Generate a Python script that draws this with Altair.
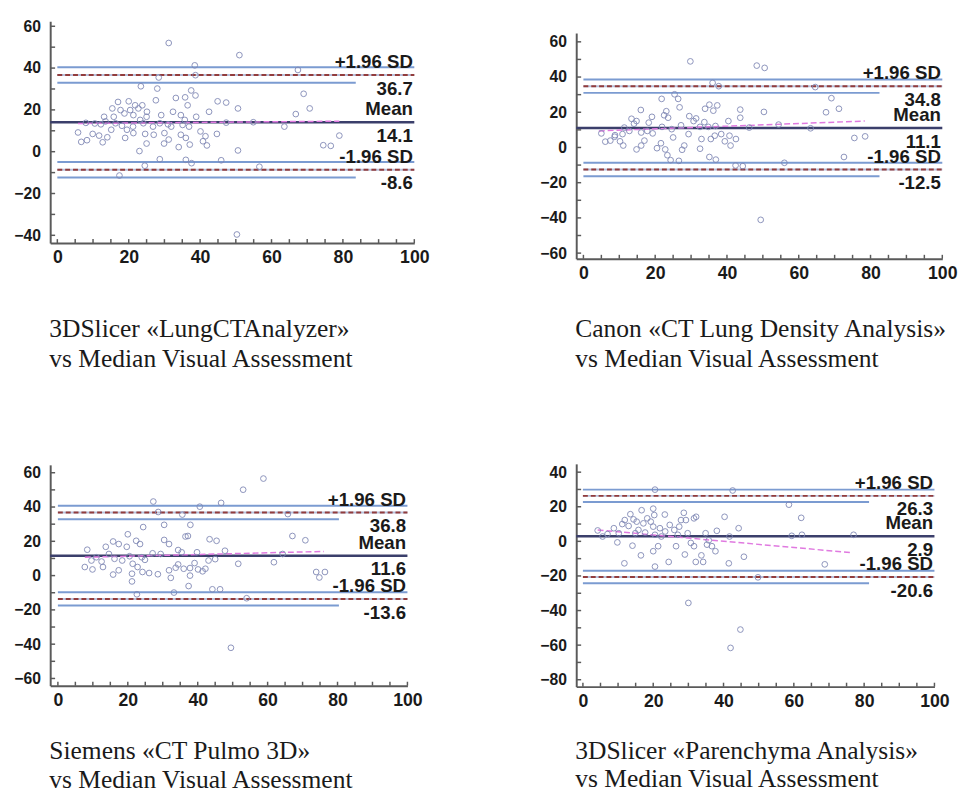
import altair as alt
import pandas as pd

# ---------------- data ----------------
# panel 1: 3DSlicer «LungCTAnalyzer»
p1_points = [(31.2, 52.0), (51.0, 46.2), (38.5, 41.3), (67.4, 39.1), (28.4, 35.5), (38.7, 36.6),
             (23.4, 31.3), (28.0, 30.2), (37.5, 29.3), (38.7, 26.9), (33.2, 25.7), (35.8, 26.0),
             (27.6, 24.6), (44.9, 24.1), (47.3, 23.5), (69.0, 27.7), (36.5, 22.2), (70.7, 20.7),
             (50.6, 20.7), (42.5, 19.1), (32.4, 19.1), (34.6, 17.5), (38.9, 16.7), (29.1, 17.5),
             (66.8, 18.0), (17.0, 23.8), (20.0, 24.1), (21.8, 22.2), (23.8, 22.2), (15.4, 20.7),
             (17.7, 19.9), (20.4, 19.9), (22.7, 20.7), (25.1, 19.1), (25.0, 16.7), (13.1, 16.7),
             (15.8, 16.7), (18.8, 18.3), (21.3, 17.5), (23.2, 15.2), (5.8, 9.2), (9.9, 8.5),
             (6.7, 4.7), (8.3, 5.5), (11.7, 7.7), (12.7, 4.5), (14.0, 6.9), (12.2, 13.1),
             (15.1, 10.5), (16.3, 13.6), (18.1, 12.4), (19.0, 6.6), (19.5, 10.5), (21.2, 12.0),
             (21.3, 8.9), (23.0, 0.3), (25.0, 3.9), (24.6, 8.5), (24.1, 13.6), (26.8, 12.0),
             (27.0, 8.1), (28.7, 13.6), (30.0, 8.9), (31.0, 13.1), (29.9, 3.9), (31.2, 5.8),
             (31.9, 12.0), (34.0, 2.2), (34.6, 8.1), (35.7, 15.2), (35.1, 12.8), (36.9, 12.0),
             (37.1, 3.4), (36.0, 6.6), (40.1, 9.7), (40.8, 5.0), (41.5, 7.4), (41.9, 3.0),
             (44.7, 8.5), (28.7, -3.6), (36.0, -3.9), (37.6, -5.5), (45.9, -4.1), (50.6, 0.6),
             (24.5, -6.7), (56.6, -7.2), (17.4, -11.4), (63.6, 12.0), (74.5, 3.1), (76.6, 2.8),
             (79.0, 7.7), (50.3, -39.6), (47.3, 13.9), (54.9, 14.1), (10.5, 13.5), (13.5, 14.5),
             (8.0, 13.8)]
p1_stats = {"mean": 14.1, "upper": 36.7, "lower": -8.6, "ci": 3.7, "short_end": 83.6}
p1_reg = [(5.8, 13.5), (79.0, 14.6)]

# panel 2: Canon «CT Lung Density Analysis»
p2_points = [(29.8, 48.9), (48.3, 46.5), (50.5, 45.2), (36.0, 36.7), (37.7, 34.8), (64.6, 34.3),
             (25.4, 30.2), (26.4, 27.6), (21.8, 27.6), (69.1, 28.0), (35.1, 24.3), (37.3, 23.9),
             (33.9, 22.0), (36.2, 20.9), (43.7, 21.5), (71.2, 22.0), (67.6, 20.0), (50.3, 20.2),
             (16.0, 21.3), (23.1, 20.6), (26.8, 22.8), (22.5, 18.3), (23.6, 16.9), (19.1, 17.4),
             (29.5, 17.8), (31.4, 16.5), (40.4, 15.0), (43.7, 16.9), (13.4, 16.3), (14.8, 15.0),
             (18.2, 14.1), (14.1, 13.5), (33.7, 14.4), (30.7, 15.0), (32.5, 11.7), (34.8, 11.7),
             (36.8, 12.2), (27.2, 12.6), (24.6, 10.4), (21.9, 11.7), (17.8, 9.4), (19.3, 8.0),
             (16.1, 8.5), (12.8, 9.4), (10.9, 7.6), (8.8, 7.0), (11.4, 11.3), (5.0, 8.0),
             (6.1, 3.3), (7.5, 3.9), (8.7, 6.1), (10.2, 3.5), (11.1, 1.1), (14.8, -1.1),
             (16.1, 1.1), (17.0, 3.9), (20.5, -0.4), (21.6, 2.4), (22.8, -1.1), (23.4, -4.4),
             (24.3, -7.2), (26.6, -7.6), (27.5, -1.3), (28.1, 1.1), (29.3, 7.6), (25.0, 5.7),
             (32.5, -0.7), (32.9, 4.8), (35.5, 4.8), (36.6, 6.7), (35.1, -5.4), (36.9, -6.9),
             (38.4, 7.6), (39.4, 3.5), (41.0, 1.1), (40.7, 6.7), (42.5, 4.8), (42.4, -10.2),
             (44.4, -10.6), (46.2, 11.3), (54.4, 13.0), (56.0, -8.7), (63.3, 10.9), (72.6, -5.4),
             (75.5, 5.4), (78.5, 6.3), (49.4, -41.1)]
p2_stats = {"mean": 11.1, "upper": 34.8, "lower": -12.5, "ci": 3.8, "short_end": 82.5}
p2_reg = [(4.3, 9.4), (78.4, 15.0)]

# panel 3: Siemens «CT Pulmo 3D»
p3_points = [(58.8, 56.6), (53.0, 50.1), (27.3, 43.2), (46.7, 42.4), (40.6, 40.2), (28.7, 37.1),
             (35.6, 35.6), (65.8, 35.9), (30.4, 29.6), (37.9, 29.6), (24.4, 28.3), (36.5, 22.8),
             (37.2, 23.1), (67.1, 23.1), (70.8, 20.6), (43.4, 21.2), (45.4, 20.3), (20.0, 24.1),
             (15.8, 19.9), (13.7, 16.8), (17.4, 18.4), (19.7, 16.8), (22.4, 20.3), (23.5, 18.4),
             (30.4, 20.8), (31.8, 18.4), (34.4, 14.9), (35.4, 13.6), (47.8, 14.5), (27.1, 13.0),
             (29.4, 12.6), (8.4, 15.1), (11.0, 10.7), (9.6, 8.8), (12.5, 8.2), (14.6, 12.6),
             (16.2, 9.8), (18.4, 8.8), (20.5, 11.3), (21.4, 6.9), (22.8, 5.0), (24.0, 10.7),
             (24.9, 9.2), (7.7, 5.0), (9.9, 3.6), (12.9, 5.0), (15.8, 0.6), (17.4, 3.1),
             (21.2, 1.1), (21.2, -3.4), (24.2, 2.1), (26.1, 1.5), (28.6, 0.8), (32.3, -1.3),
             (31.8, 3.1), (33.7, 4.6), (34.4, 6.5), (36.0, 4.0), (37.8, 4.4), (39.1, 7.3),
             (40.1, 3.6), (41.4, 2.5), (42.2, 4.0), (37.8, 0.0), (37.4, -6.1), (33.2, -9.9),
             (22.6, -10.9), (44.2, -8.0), (46.4, -8.0), (51.6, 6.9), (54.0, -13.2), (61.8, 7.8),
             (64.3, 12.6), (73.9, 2.1), (74.8, -1.1), (76.4, 2.1), (49.5, -42.1), (43.1, 8.8),
             (45.0, 9.6), (39.8, 13.6)]
p3_stats = {"mean": 11.6, "upper": 36.8, "lower": -13.6, "ci": 3.9, "short_end": 80.4}
p3_reg = [(7.7, 10.7), (76.1, 14.1)]

# panel 4: 3DSlicer «Parenchyma Analysis»
p4_points = [(20.5, 29.9), (42.6, 29.4), (58.6, 21.2), (62.1, 13.6), (40.3, 14.2), (44.3, 7.6),
             (38.1, 6.1), (59.4, 3.2), (62.3, 3.8), (77.0, 3.8), (41.7, 2.8), (4.2, 6.3),
             (5.6, 2.8), (7.0, 4.2), (8.8, 7.6), (10.2, 4.7), (9.8, -0.6), (11.2, 10.0),
             (11.9, 12.3), (13.0, 8.9), (13.5, 15.7), (14.4, 12.7), (15.3, 11.4), (14.9, 4.7),
             (14.1, -2.5), (15.8, 6.6), (16.7, 18.0), (17.2, 10.4), (17.7, 5.1), (18.3, 13.3),
             (19.3, 11.4), (20.0, 18.9), (20.3, 15.2), (20.0, 8.5), (20.5, 3.8), (20.0, -5.7),
             (21.4, -2.8), (20.5, -14.6), (16.5, -8.1), (11.8, -12.7), (23.3, 15.5), (22.3, 2.8),
             (23.4, 5.7), (24.4, -11.9), (26.0, 6.6), (26.5, -2.8), (27.0, 3.8), (27.4, 8.5),
             (28.7, 16.5), (27.9, 12.3), (29.3, 12.3), (29.8, 4.7), (30.7, -0.9), (31.6, 13.3),
             (32.2, 14.2), (31.6, -2.8), (32.1, -11.9), (29.0, -7.6), (33.7, -8.1), (34.2, -11.9),
             (34.9, 4.7), (35.8, 0.6), (36.7, -2.8), (37.7, -5.7), (35.3, -1.9), (41.5, -12.7),
             (45.8, -8.9), (68.8, -13.3), (30.0, -35.6), (44.8, -51.0), (42.0, -61.6), (49.8, -20.8),
             (21.9, 7.6), (24.7, 9.5)]
p4_stats = {"mean": 2.9, "upper": 26.3, "lower": -20.6, "ci": 3.6, "short_end": 81.4}
p4_reg = [(4.2, 6.6), (76.7, -6.6)]

x_labels = [0, 20, 40, 60, 80, 100]
x_minor = [0, 5, 10, 15, 20, 25, 30, 35, 40, 45, 50, 55, 60, 65, 70, 75, 80, 85, 90, 95, 100]
y_labels_1 = [-40, -20, 0, 20, 40, 60]
y_labels_2 = [-60, -40, -20, 0, 20, 40, 60]
y_labels_4 = [-80, -60, -40, -20, 0, 20, 40]
y_minor_1 = [-40, -30, -20, -10, 0, 10, 20, 30, 40, 50, 60]
y_minor_2 = [-60, -50, -40, -30, -20, -10, 0, 10, 20, 30, 40, 50, 60]
y_minor_4 = [-80, -70, -60, -50, -40, -30, -20, -10, 0, 10, 20, 30, 40]

captions = [
    ["3DSlicer «LungCTAnalyzer»", "vs Median Visual Assessment"],
    ["Canon «CT Lung Density Analysis»", "vs Median Visual Assessment"],
    ["Siemens «CT Pulmo 3D»", "vs Median Visual Assessment"],
    ["3DSlicer «Parenchyma Analysis»", "vs Median Visual Assessment"],
]

# ---------------- styling ----------------
BLUE = "#7b9bd1"
RED = "#923c3c"
MEAN = "#3b3f6b"
PT = "#8088b5"
REG = "#e07ae0"
AX = "#5a5a5a"
TXT = "#1a1a1a"
SANS = "Liberation Sans"
SERIF = "Liberation Serif"


def panel(points, stats, reg, xdom, ydom, w, h, ylabels, yminor, caption, cap_offset, yext, line_h):
    xs = alt.Scale(domain=xdom, nice=False, zero=False)
    ys = alt.Scale(domain=ydom, nice=False, zero=False)
    xaxis = alt.Axis(values=x_labels, ticks=False, grid=False, labelFont=SANS,
                     labelFontWeight="bold", labelFontSize=18, labelColor=TXT,
                     labelPadding=6, labelFlush=False, domainColor=AX, domainWidth=2,
                     format="d", title=None)
    yaxis = alt.Axis(values=ylabels, ticks=False, grid=False, labelFont=SANS,
                     labelFontWeight="bold", labelFontSize=16, labelColor=TXT,
                     labelPadding=10, labelFlush=False, domainColor=AX, domainWidth=2,
                     format="d", title=None, minExtent=yext, maxExtent=yext)

    def X(f):
        return alt.X(f, type="quantitative", scale=xs, axis=xaxis)

    def Y(f):
        return alt.Y(f, type="quantitative", scale=ys, axis=yaxis)

    m, up, lo, ci, se = stats["mean"], stats["upper"], stats["lower"], stats["ci"], stats["short_end"]
    blue_df = pd.DataFrame({"x1": [0, 0, 0, 0], "x2": [100, se, 100, se],
                            "y": [up + ci, up - ci, lo + ci, lo - ci]})
    dash_df = pd.DataFrame({"x1": [0, 0], "x2": [100, 100], "y": [up, lo]})
    mean_df = pd.DataFrame({"x1": [xdom[0]], "x2": [100], "y": [m]})
    reg_df = pd.DataFrame({"x": [reg[0][0]], "x2": [reg[1][0]], "y": [reg[0][1]], "y2": [reg[1][1]]})
    pts_df = pd.DataFrame(points, columns=["x", "y"])
    above_df = pd.DataFrame({"x": [99.6] * 3, "y": [up, m, lo], "t": ["+1.96 SD", "Mean", "-1.96 SD"]})
    below_df = pd.DataFrame({"x": [99.6] * 3, "y": [up, m, lo], "t": [f"{up}", f"{m}", f"{lo}"]})
    xt_df = pd.DataFrame({"t": x_minor})
    yt_df = pd.DataFrame({"t": yminor})

    blue = alt.Chart(blue_df).mark_rule(color=BLUE, strokeWidth=2).encode(x=X("x1"), x2="x2", y=Y("y"))
    dash_under = alt.Chart(dash_df).mark_rule(color="#b9c3dd", strokeWidth=2).encode(x=X("x1"), x2="x2", y=Y("y"))
    dash = alt.Chart(dash_df).mark_rule(color=RED, strokeWidth=2, strokeDash=[5, 3]).encode(
        x=X("x1"), x2="x2", y=Y("y"))
    mean = alt.Chart(mean_df).mark_rule(color=MEAN, strokeWidth=2.5).encode(x=X("x1"), x2="x2", y=Y("y"))
    regl = alt.Chart(reg_df).mark_rule(color=REG, strokeWidth=1.5, strokeDash=[6, 3]).encode(
        x=X("x"), x2="x2", y=Y("y"), y2="y2")
    pts = alt.Chart(pts_df).mark_point(shape="circle", filled=False, size=34, strokeWidth=1,
                                       color=PT, opacity=0.9).encode(x=X("x"), y=Y("y"))
    xt = alt.Chart(xt_df).mark_rule(color=AX, strokeWidth=1.5).encode(
        x=X("t"), y=alt.value(h), y2=alt.value(h - 4))
    yt = alt.Chart(yt_df).mark_rule(color=AX, strokeWidth=1.5).encode(
        y=Y("t"), x=alt.value(0), x2=alt.value(5))
    lab_kw = dict(align="right", baseline="middle", font=SANS, fontWeight="bold", fontSize=19, color=TXT)
    above = alt.Chart(above_df).mark_text(dy=-13, **lab_kw).encode(x=X("x"), y=Y("y"), text="t:N")
    below = alt.Chart(below_df).mark_text(dy=14, **lab_kw).encode(x=X("x"), y=Y("y"), text="t:N")

    return alt.layer(blue, dash_under, dash, mean, regl, pts, xt, yt, above, below).properties(
        width=w, height=h,
        title=alt.TitleParams(text=caption, orient="bottom", anchor="start", frame="group",
                              font=SERIF, fontSize=26, fontWeight="normal", color=TXT,
                              lineHeight=line_h, baseline="top", offset=cap_offset, dx=-1))


def spacer():
    # an invisible 1px block that only takes room in the layout
    return alt.Chart(pd.DataFrame({"v": [0]})).mark_rule(opacity=0, strokeWidth=1).encode(
        x=alt.value(0), y=alt.value(0), y2=alt.value(1)).properties(width=1, height=1)


p1 = panel(p1_points, p1_stats, p1_reg, [-2, 100], [-43.7, 62.4], 371, 226, y_labels_1, y_minor_1,
           captions[0], 51, 38, 30)
p2 = panel(p2_points, p2_stats, p2_reg, [-2, 100], [-63.2, 65], 373, 230, y_labels_2, y_minor_2,
           captions[1], 35, 36, 30)
p3 = panel(p3_points, p3_stats, p3_reg, [-2.2, 100], [-64.2, 64.6], 364, 225, y_labels_2, y_minor_2,
           captions[2], 30, 38, 29)
p4 = panel(p4_points, p4_stats, p4_reg, [-1.9, 100], [-84, 44.8], 365, 227, y_labels_4, y_minor_4,
           captions[3], 28.5, 36, 29)

col_a = alt.vconcat(p1, p3, spacing=95)
col_b = alt.vconcat(alt.vconcat(spacer(), p2, spacing=11), p4, spacing=94)

chart = alt.hconcat(col_a, col_b, spacing=111).properties(
    padding={"left": 5, "top": 3, "right": 0, "bottom": 0},
    background="white",
).configure_view(strokeWidth=0)

chart.save("out.html", embed_options={"renderer": "svg", "actions": False})
